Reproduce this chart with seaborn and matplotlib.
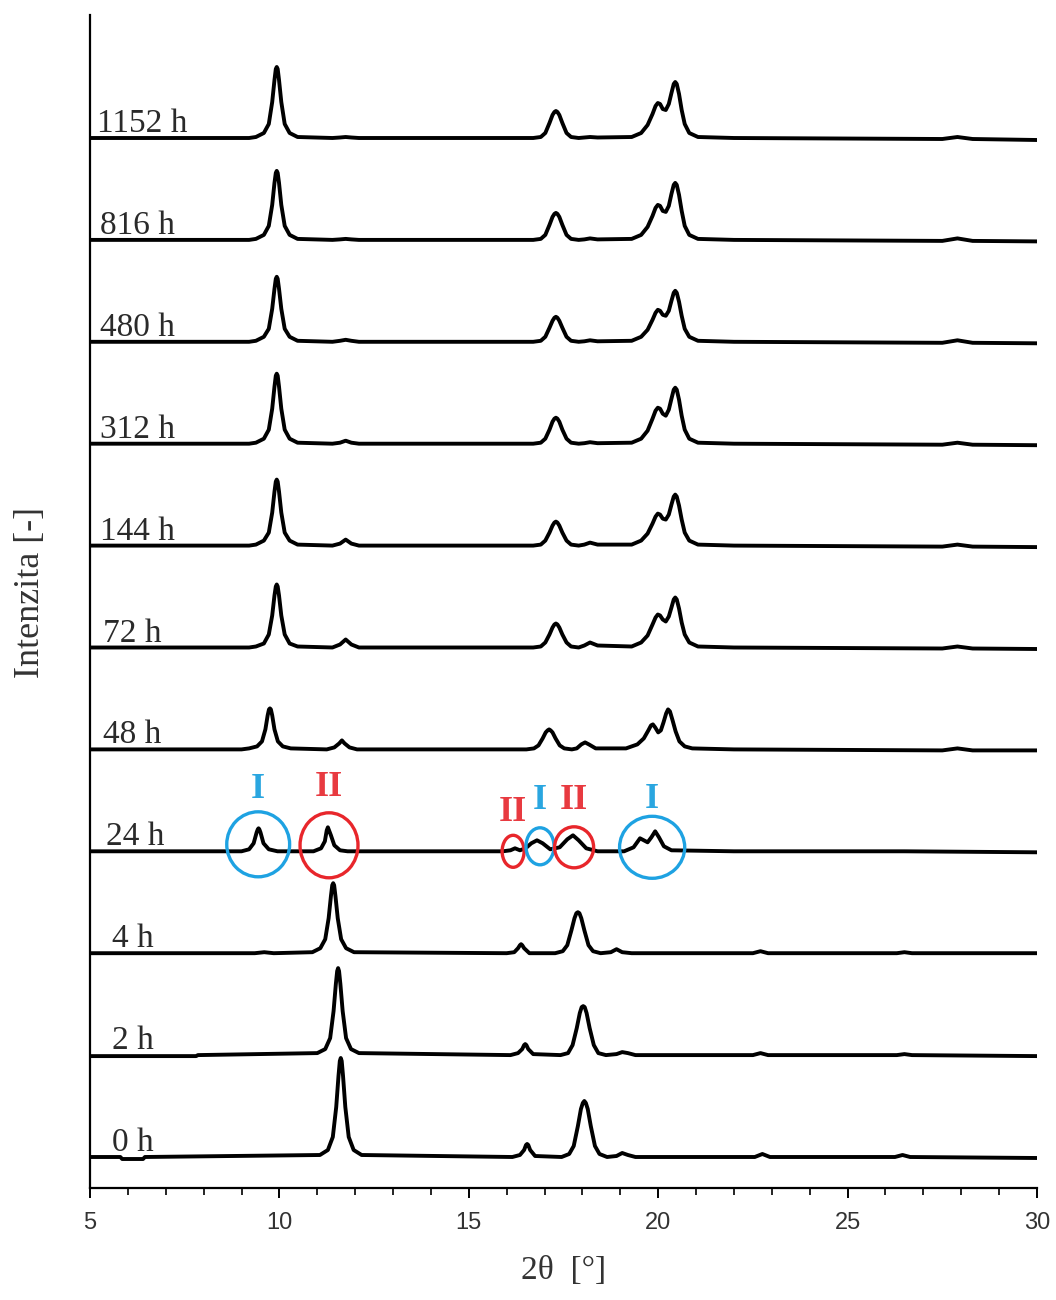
import numpy as np
import pandas as pd
import seaborn as sns
import matplotlib
matplotlib.use("Agg")
import matplotlib.pyplot as plt
from matplotlib.patches import Ellipse

# ---------------------------------------------------------------------------
# Diffraction patterns (2theta in degrees, intensity in arbitrary units)
# ---------------------------------------------------------------------------
labels = ["0 h", "2 h", "4 h", "24 h", "48 h", "72 h",
          "144 h", "312 h", "480 h", "816 h", "1152 h"]

# form II dominated patterns
x_0h = [5.0, 5.8, 5.85, 6.4, 6.45,
        11.07, 11.28, 11.41, 11.5, 11.56, 11.595, 11.62, 11.645, 11.68, 11.74,
        11.83, 11.96, 12.17,
        16.15, 16.35, 16.46, 16.51, 16.54, 16.57, 16.62, 16.75,
        17.45, 17.65, 17.77, 17.88, 17.96, 18.01, 18.05, 18.09, 18.14, 18.22,
        18.33, 18.45, 18.65,
        18.9, 19.05, 19.2, 19.4,
        22.55, 22.75, 22.95, 26.25, 26.45, 26.65, 30.0]
y_0h = [0, 0, -2, -2, 0,
        2, 7, 20, 50, 81, 96, 99, 96, 81, 50,
        20, 7, 2,
        0, 2, 7, 12, 13, 12, 7, 1,
        0, 3, 11, 31, 48, 54, 56, 54, 48, 31,
        11, 3, 0,
        1, 4, 2, 0,
        0, 3, 0, 0, 2, 0, -1]

x_2h = [5.0, 7.8, 7.85,
        11.0, 11.21, 11.34, 11.43, 11.49, 11.525, 11.55, 11.575, 11.61, 11.67,
        11.76, 11.89, 12.1,
        16.1, 16.3, 16.41, 16.46, 16.49, 16.52, 16.57, 16.7,
        17.42, 17.62, 17.74, 17.85, 17.93, 17.98, 18.02, 18.06, 18.11, 18.19,
        18.3, 18.42, 18.62,
        18.9, 19.05, 19.2, 19.4,
        22.5, 22.7, 22.9, 26.3, 26.5, 26.7, 30.0]
y_2h = [-1, -1, 0,
        2, 6, 17, 44, 71, 84, 87, 84, 71, 44,
        17, 6, 2,
        0, 2, 6, 10, 11, 10, 6, 1,
        0, 2, 10, 27, 42, 48, 49, 48, 42, 27,
        10, 2, 0,
        1, 3, 2, 0,
        0, 2, 0, 0, 1, 0, -1]

x_4h = [5.0, 9.35, 9.6, 9.85,
        10.87, 11.08, 11.21, 11.3, 11.36, 11.395, 11.42, 11.445, 11.48, 11.54,
        11.63, 11.76, 11.97,
        16.0, 16.2, 16.3, 16.35, 16.38, 16.41, 16.46, 16.6,
        17.28, 17.48, 17.6, 17.71, 17.79, 17.84, 17.88, 17.92, 17.97, 18.05,
        18.16, 18.28, 18.48,
        18.75, 18.9, 19.05, 19.3,
        22.5, 22.7, 22.9, 26.3, 26.5, 26.7, 30.0]
y_4h = [0, 0, 1, 0,
        1, 5, 14, 35, 57, 68, 70, 68, 57, 35,
        14, 5, 1,
        0, 1, 5, 8, 9, 8, 5, 0,
        0, 2, 8, 23, 35, 40, 41, 40, 35, 23,
        8, 2, 0,
        1, 4, 1, 0,
        0, 2, 0, 0, 1, 0, 0]

# mixed pattern
x_24h = [5.0, 9.0, 9.2, 9.32, 9.4, 9.43, 9.45, 9.47, 9.5, 9.58, 9.72, 9.95,
         10.9, 11.1, 11.2, 11.25, 11.28, 11.31, 11.36, 11.45, 11.6, 11.8,
         15.9, 16.1, 16.22, 16.35, 16.5, 16.65, 16.8, 16.95, 17.15, 17.4, 17.6,
         17.75, 17.9, 18.1, 18.4,
         19.1, 19.35, 19.52, 19.62, 19.72, 19.82, 19.92, 20.02, 20.15, 20.35,
         22.0, 26.5, 30.0]
y_24h = [0, 0, 2, 8, 19, 22, 23, 22, 19, 8, 2, 0,
         0, 3, 10, 21, 24, 21, 16, 6, 1, 0,
         0, 1, 3, 1, 3, 8, 11, 8, 2, 4, 12,
         16, 11, 3, 0,
         0, 4, 13, 11, 9, 14, 20, 14, 5, 1,
         0, 0, -1]

x_48h = [5.0, 9.0,
         9.2, 9.41, 9.54, 9.63, 9.69, 9.725, 9.75, 9.775, 9.81, 9.87, 9.96,
         10.09, 10.3,
         11.25, 11.45, 11.58, 11.65, 11.72, 11.85, 12.05,
         16.52, 16.72, 16.84, 16.95, 17.03, 17.08, 17.12, 17.16, 17.21, 17.29,
         17.4, 17.52, 17.72,
         17.85, 17.97, 18.07, 18.17, 18.35,
         19.15, 19.45, 19.62, 19.74, 19.81, 19.86, 19.92, 20.0, 20.07, 20.14,
         20.21, 20.26, 20.31, 20.38, 20.46, 20.56, 20.7, 20.9,
         22.0, 27.5, 27.9, 28.3, 30.0]
y_48h = [0, 0,
         1, 3, 8, 20, 34, 40, 41, 40, 34, 20, 8,
         3, 1,
         0, 2, 6, 9, 6, 2, 0,
         0, 1, 4, 11, 17, 19, 20, 19, 17, 11,
         4, 1, 0,
         1, 5, 7, 5, 1,
         1, 5, 11, 19, 24, 25, 22, 17, 19, 27,
         36, 40, 38, 29, 18, 8, 3, 1,
         0, -1, 1, -1, -1]

# form I patterns share one 2theta grid
x_form1 = [5.0, 9.2,
           9.38, 9.59, 9.72, 9.81, 9.87, 9.905, 9.93, 9.955, 9.99, 10.05, 10.14,
           10.27, 10.48,
           11.4, 11.6, 11.75, 11.9, 12.1,
           16.7, 16.9, 17.02, 17.13, 17.21, 17.26, 17.3, 17.34, 17.39, 17.47,
           17.58, 17.7, 17.9,
           18.05, 18.2, 18.4,
           19.3, 19.55, 19.72, 19.85, 19.93, 19.99, 20.05, 20.12, 20.2, 20.28,
           20.35, 20.41, 20.45, 20.49, 20.55, 20.62, 20.7, 20.82, 21.05,
           22.0, 27.5, 27.9, 28.3, 30.0]
y_72h = [0, 0,
         1, 4, 13, 32, 52, 61, 63, 61, 52, 32, 13, 4, 1,
         0, 3, 8, 3, 0,
         0, 1, 5, 13, 20, 23, 24, 23, 20, 13, 5, 1, 0,
         2, 5, 2,
         1, 5, 12, 23, 30, 33, 32, 28, 26, 31, 40, 48, 50, 48, 39, 25, 13, 5, 1,
         0, -1, 1, -1, -1.5]
y_144h = [0, 0,
          1, 5, 13, 33, 54, 64, 66, 64, 54, 33, 13, 5, 1,
          0, 2, 6, 2, 0,
          0, 1, 5, 13, 20, 23, 24, 23, 20, 13, 5, 1, 0,
          1, 3, 1,
          1, 5, 12, 22, 29, 32, 31, 27, 26, 31, 41, 49, 51, 49, 40, 26, 13, 5, 1,
          0, -1, 1, -1, -1.5]
y_312h = [0, 0,
          1, 5, 14, 35, 57, 68, 70, 68, 57, 35, 14, 5, 1,
          0, 1, 3, 1, 0,
          0, 1, 5, 14, 22, 25, 26, 25, 22, 14, 5, 1, 0,
          0.5, 1.5, 0.5,
          1, 5, 13, 25, 33, 36, 35, 30, 28, 34, 45, 54, 56, 54, 44, 28, 14, 5, 1,
          0, -1, 1, -1, -1.5]
y_480h = [0, 0,
          1, 5, 13, 33, 53, 63, 65, 63, 53, 33, 13, 5, 1,
          0, 1, 2, 1, 0,
          0, 1, 5, 14, 21, 24, 25, 24, 21, 14, 5, 1, 0,
          0.5, 1.5, 0.5,
          1, 5, 12, 22, 29, 32, 31, 27, 26, 31, 41, 49, 51, 49, 40, 26, 13, 5, 1,
          0, -1, 1.5, -1, -1.5]
y_816h = [0, 0,
          1, 5, 14, 35, 57, 67, 69, 67, 57, 35, 14, 5, 1,
          0, 0.5, 1, 0.5, 0,
          0, 1, 5, 15, 23, 26, 27, 26, 23, 15, 5, 1, 0,
          0.5, 1.5, 0.5,
          1, 5, 13, 24, 32, 35, 34, 29, 28, 34, 46, 55, 57, 55, 45, 29, 14, 5, 1,
          0, -1, 1.5, -1, -1.5]
y_1152h = [0, 0,
           1, 5, 14, 36, 58, 69, 71, 69, 58, 36, 14, 5, 1,
           0, 0.5, 1, 0.5, 0,
           0, 1, 5, 15, 23, 26, 27, 26, 23, 15, 5, 1, 0,
           0.5, 1, 0.5,
           1, 5, 13, 24, 32, 35, 34, 29, 28, 34, 45, 54, 56, 54, 44, 28, 14, 5, 1,
           0, -1, 1, -1, -2]

patterns = [(x_0h, y_0h), (x_2h, y_2h), (x_4h, y_4h), (x_24h, y_24h),
            (x_48h, y_48h), (x_form1, y_72h), (x_form1, y_144h),
            (x_form1, y_312h), (x_form1, y_480h), (x_form1, y_816h),
            (x_form1, y_1152h)]

# polymorph markers on the 24 h pattern
marker_text = ["I", "II", "II", "I", "II", "I"]
marker_form = ["I", "II", "II", "I", "II", "I"]
marker_pos = [9.44, 11.31, 16.17, 16.88, 17.78, 19.84]

# ---------------------------------------------------------------------------
# layout / style
# ---------------------------------------------------------------------------
sns.set_theme(style="white")
plt.rcParams["font.family"] = ["Liberation Serif", "DejaVu Serif"]

W, H = 1056, 1300
fig = plt.figure(figsize=(W / 100, H / 100), dpi=100)
ax = fig.add_axes([90 / W, 1 - 1188 / H, (1037 - 90) / W, (1188 - 15) / H])

step = 101.9
base = 31.0
line_kw = dict(color="black", linewidth=2.8, estimator=None, sort=False,
               legend=False)

label_x = [5.58, 5.58, 5.58, 5.42, 5.34, 5.34, 5.26, 5.26, 5.26, 5.26, 5.18]

for i, ((xs, ys), lab) in enumerate(zip(patterns, labels)):
    off = base + i * step
    df = pd.DataFrame({"two_theta": xs, "intensity": np.asarray(ys) + off})
    sns.lineplot(data=df, x="two_theta", y="intensity", ax=ax, **line_kw)
    ax.lines[-1].set_solid_joinstyle("round")
    ax.lines[-1].set_solid_capstyle("round")
    ax.text(label_x[i], off + 6, lab, fontsize=24, color="#2a2a2a",
            ha="left", va="baseline", family=["Liberation Serif"])

# circles and numerals marking form I / form II reflections at 24 h
form_color = {"I": "#1EA2E2", "II": "#E8262B"}
text_color = {"I": "#2AA6E0", "II": "#E83A40"}
off24 = base + 3 * step
circle_w = [1.66, 1.53, 0.58, 0.74, 1.03, 1.72]
circle_h = [65, 65, 32, 37, 41, 62]
circle_dy = [7, 6, 0, 5, 4, 4]
text_dy = [62, 64, 39, 51, 51, 52]
for pos, txt, form, w, h, cdy, tdy in zip(marker_pos, marker_text, marker_form,
                                         circle_w, circle_h, circle_dy, text_dy):
    ax.add_patch(Ellipse((pos, off24 + cdy), w, h, fill=False,
                         edgecolor=form_color[form], linewidth=2.4, zorder=5))
    ax.text(pos, off24 + tdy, txt, color=text_color[form], fontsize=26,
            fontweight="bold", ha="center", va="center",
            family=["Liberation Serif"])

ax.set_xlim(5, 30)
ax.set_ylim(0, 1173)
ax.set_yticks([])
ax.set_xticks([5, 10, 15, 20, 25, 30])
ax.set_xticks(np.arange(5, 31, 1), minor=True)

for side in ("top", "right"):
    ax.spines[side].set_visible(False)
for side in ("left", "bottom"):
    ax.spines[side].set_linewidth(1.6)
    ax.spines[side].set_color("black")

ax.tick_params(axis="x", which="major", direction="out", length=7.5, width=1.4,
               color="black", pad=10, bottom=True)
ax.tick_params(axis="x", which="minor", direction="out", length=5, width=1.2,
               color="black", bottom=True)
for t in ax.get_xticklabels():
    t.set_family(["Liberation Sans", "DejaVu Sans"])
    t.set_fontsize(17)
    t.set_color("#333333")

ax.set_xlabel("2θ  [°]", fontsize=24, color="#333333", labelpad=15)
ax.set_ylabel("Intenzita [-]", fontsize=26, color="#333333")
ax.yaxis.set_label_coords(-0.045, 0.508)

fig.savefig("out.png", dpi=100, facecolor="white")
